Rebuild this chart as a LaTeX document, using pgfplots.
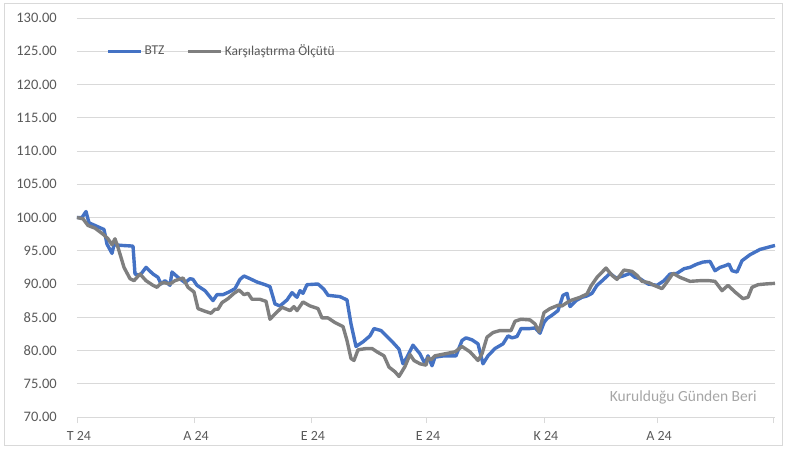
\documentclass[border=0pt]{standalone}
\usepackage{fontspec}
\setmainfont{Carlito}
\usepackage{pgfplots}
\pgfplotsset{compat=1.18}
\definecolor{btz}{HTML}{4472C4}
\definecolor{bench}{HTML}{7F7F7F}
\definecolor{gridc}{HTML}{D9D9D9}
\definecolor{labc}{HTML}{595959}
\begin{document}
\begin{tikzpicture}
\useasboundingbox (-77pt,-31pt) rectangle (708pt,417pt);
\draw[gridc, line width=0.8pt] (-73pt,-28pt) rectangle (705pt,414pt);
\begin{axis}[
  scale only axis,
  width=698pt, height=399pt,
  xmin=77, xmax=775, ymin=70, ymax=130,
  axis x line*=bottom, axis y line*=left,
  x axis line style={gridc, line width=0.8pt},
  y axis line style={draw=none},
  ytick={70,75,...,130},
  ymajorgrids, grid style={gridc, line width=0.8pt},
  xtick={77,194,311,426,544,657,773},
  xticklabels={T 24,A 24,E 24,E 24,K 24,A 24,},
  x tick style={gridc, line width=0.8pt},
  major tick length=6pt, tick align=outside,
  ytick style={draw=none},
  /pgf/number format/assume math mode=true,
  yticklabel={\pgfmathprintnumber[fixed,fixed zerofill,precision=2]{\tick}},
  yticklabel style={anchor=east, inner sep=0pt, xshift=-14pt, font=\fontsize{14.5}{15}\selectfont, text=labc},
  xticklabel style={anchor=north, inner sep=0pt, yshift=-8pt, xshift=2pt, font=\fontsize{14}{15}\selectfont, text=labc},
  legend style={at={(axis cs:106,125)}, anchor=west, draw=none, fill=none,
    font=\fontsize{13.5}{14}\selectfont, text=labc,
    legend columns=2, inner sep=0pt,
    /tikz/every even column/.append style={column sep=20pt},
    nodes={inner xsep=2pt, inner ysep=1pt}},
  legend image code/.code={\draw[#1] (0pt,0pt) -- (33pt,0pt);},
  every axis plot/.append style={line width=3.4pt, line join=round, mark=none},
  clip=false,
]
\addplot[btz] coordinates {
(77,100.0) (82,100.0) (86,100.9) (89,99.2) (95,98.8) (104,98.2) (107,96.0)
(112,94.6) (114,95.9) (122,95.8) (133,95.7) (135,91.5) (140,91.3) (146,92.5)
(153,91.5) (158,91.0) (161,90.0) (165,90.5) (170,89.8) (172,91.8) (178,91.0)
(185,90.2) (190,90.8) (193,90.7) (197,89.8) (205,89.0) (213,87.5) (217,88.4)
(223,88.4) (229,88.8) (235,89.3) (240,90.7) (244,91.2) (250,90.8) (257,90.3)
(265,89.9) (270,89.6) (275,87.0) (280,86.7) (287,87.6) (292,88.7) (297,88.0)
(300,89.0) (303,88.6) (307,89.9) (318,90.0) (324,89.2) (328,88.3) (340,88.1)
(347,87.6) (351,84.0) (356,80.6) (363,81.3) (370,82.2) (374,83.3) (381,83.0)
(393,81.2) (399,80.2) (403,78.0) (407,79.0) (413,80.8) (420,79.5) (425,78.0)
(428,79.2) (432,77.7) (435,79.0) (444,79.2) (456,79.2) (462,81.5) (466,81.9)
(472,81.6) (478,81.0) (483,78.0) (488,79.2) (495,80.3) (503,81.0) (508,82.2)
(512,81.9) (517,82.1) (521,83.3) (530,83.3) (535,83.4) (540,82.6) (544,84.2)
(547,84.8) (552,85.3) (558,86.0) (563,88.3) (567,88.6) (570,86.6) (576,87.5)
(582,88.0) (587,88.2) (592,88.6) (597,89.8) (603,90.6) (610,91.6) (616,90.9)
(623,91.2) (630,91.6) (635,91.0) (640,90.8) (648,90.0) (657,89.8) (664,90.5)
(670,91.5) (677,91.6) (684,92.3) (690,92.5) (697,93.0) (703,93.3) (710,93.4)
(715,92.0) (720,92.5) (726,92.8) (729,93.0) (732,92.0) (737,91.8) (742,93.5)
(750,94.4) (760,95.2) (775,95.8)
};
\addlegendentry{BTZ}
\addplot[bench] coordinates {
(77,100.0) (83,99.8) (88,98.8) (95,98.4) (103,97.5) (108,96.8) (112,95.9)
(115,96.8) (118,95.5) (124,92.5) (130,90.8) (134,90.5) (140,91.5) (146,90.5)
(153,89.8) (157,89.5) (161,90.1) (164,90.2) (170,90.0) (175,90.5) (183,90.9)
(188,89.5) (194,88.8) (198,86.3) (205,85.9) (211,85.6) (215,86.2) (218,86.2)
(222,87.2) (228,87.8) (234,88.6) (239,89.1) (244,88.4) (248,88.6) (252,87.7)
(260,87.7) (266,87.4) (270,84.7) (275,85.5) (282,86.5) (290,86.0) (294,86.6)
(297,86.0) (303,87.3) (310,86.7) (318,86.3) (322,84.9) (328,84.9) (335,84.2)
(343,83.6) (347,81.5) (351,78.8) (354,78.5) (358,80.1) (366,80.3) (372,80.3)
(377,79.8) (384,79.2) (389,77.5) (395,76.8) (399,76.1) (405,77.6) (410,79.4)
(414,78.5) (420,78.0) (426,77.8) (428,78.9) (431,78.6) (435,79.2) (445,79.5)
(455,79.8) (462,80.6) (470,79.8) (478,78.5) (482,79.5) (487,82.0) (493,82.7)
(500,83.0) (506,83.0) (511,83.0) (515,84.4) (521,84.7) (530,84.6) (535,84.0)
(539,82.8) (544,85.7) (550,86.3) (558,86.8) (562,86.7) (568,87.3) (572,87.6)
(580,88.0) (587,88.5) (591,89.7) (597,91.0) (606,92.4) (612,91.3) (617,90.7)
(624,92.1) (632,91.9) (637,91.3) (642,90.4) (649,90.2) (654,89.8) (662,89.3)
(667,90.3) (673,91.6) (680,91.0) (690,90.4) (700,90.5) (709,90.5) (715,90.4)
(722,89.0) (728,89.8) (735,88.8) (743,87.8) (748,88.0) (752,89.5) (758,89.9)
(765,90.0) (775,90.1)
};
\addlegendentry{Karşılaştırma Ölçütü}
\node[anchor=east, inner sep=0pt, text=black!35, font=\fontsize{15.5}{16}\selectfont] at (axis cs:757,72.9) {Kurulduğu Günden Beri};
\end{axis}
\end{tikzpicture}
\end{document}
